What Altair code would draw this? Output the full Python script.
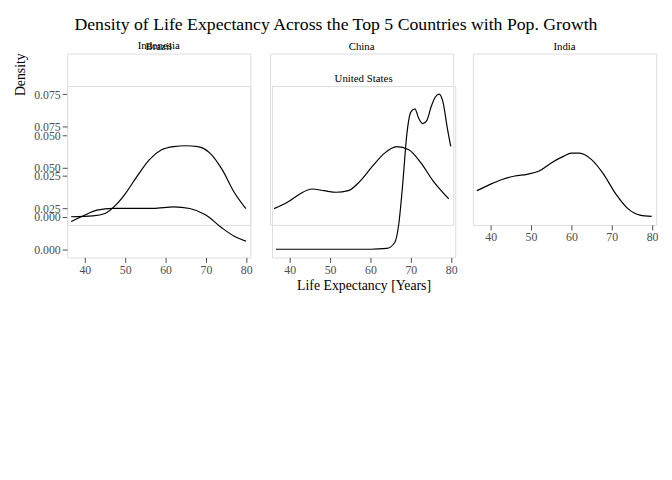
import altair as alt
import pandas as pd

brazil_x = [36.6, 42, 45, 48, 50, 53, 56, 59, 62, 65, 68, 71, 74, 77, 79.9]
brazil_y = [0.0, 0.0005, 0.002, 0.008, 0.014, 0.025, 0.035, 0.041, 0.043, 0.0435, 0.043, 0.039, 0.029, 0.015, 0.005]
china_x = [36.6, 40, 43, 46, 49, 52, 55, 58, 61, 64, 67, 70, 73, 76, 79.9]
china_y = [0.005, 0.009, 0.014, 0.017, 0.016, 0.015, 0.016, 0.022, 0.031, 0.039, 0.043, 0.041, 0.033, 0.022, 0.011]
india_x = [36.6, 40, 43, 46, 49, 52, 55, 58, 60, 62, 65, 68, 71, 74, 77, 79.9]
india_y = [0.016, 0.020, 0.023, 0.025, 0.026, 0.028, 0.033, 0.037, 0.039, 0.039, 0.035, 0.026, 0.014, 0.005, 0.001, 0.0002]
indonesia_x = [36.6, 40, 43, 47, 52, 57, 62, 66, 70, 74, 77, 79.9]
indonesia_y = [0.017, 0.021, 0.024, 0.025, 0.025, 0.025, 0.026, 0.025, 0.021, 0.013, 0.008, 0.005]
us_x = [36.6, 60, 64, 66, 67, 68, 69, 70, 71, 72, 73, 74, 75, 76, 77, 78, 79, 79.9]
us_y = [0.0, 0.0, 0.0005, 0.004, 0.015, 0.040, 0.070, 0.084, 0.086, 0.080, 0.077, 0.079, 0.087, 0.093, 0.095, 0.090, 0.075, 0.063]

series = {
    "Brazil": (brazil_x, brazil_y),
    "China": (china_x, china_y),
    "India": (india_x, india_y),
    "Indonesia": (indonesia_x, indonesia_y),
    "United States": (us_x, us_y),
}

FONT = "Liberation Serif"
W, H = 186, 174
xs = alt.Scale(domain=[35.6, 81.0], nice=False, zero=False)
ys = alt.Scale(domain=[-0.005, 0.100], nice=False)

def panel(name, show_x, show_y, xtitle=False, ytitle=False):
    xv, yv = series[name]
    df = pd.DataFrame({"x": xv, "y": yv})
    xaxis = alt.Axis(values=[40, 50, 60, 70, 80], grid=False, domain=False,
                     tickColor="#4d4d4d", labelColor="#4d4d4d", labelFontSize=12,
                     title="Life Expectancy [Years]" if xtitle else None,
                     titleFontSize=14, titleFontWeight="normal", titleColor="black",
                     titlePadding=4) if show_x else None
    yaxis = alt.Axis(values=[0, 0.025, 0.05, 0.075], format=".3f", grid=False, domain=False,
                     tickColor="#4d4d4d", labelColor="#4d4d4d", labelFontSize=12,
                     title="Density" if ytitle else None, titleFontSize=14,
                     titleFontWeight="normal", titleColor="black", titleY=-12,
                     titlePadding=6) if show_y else None
    return alt.Chart(df).mark_line(color="black", strokeWidth=1.2, interpolate="monotone").encode(
        x=alt.X("x:Q", scale=xs, axis=xaxis),
        y=alt.Y("y:Q", scale=ys, axis=yaxis),
    ).properties(width=W, height=H,
                 title=alt.TitleParams(name, fontSize=11, fontWeight="normal", font=FONT, offset=2))

row1 = alt.hconcat(panel("Brazil", False, True), panel("China", False, False),
                   panel("India", True, False), spacing=18)
row2 = alt.hconcat(panel("Indonesia", True, True, ytitle=True),
                   panel("United States", True, False, xtitle=True), spacing=18)

chart = alt.vconcat(row1, row2, spacing=33, bounds="flush").properties(
    title=alt.TitleParams("Density of Life Expectancy Across the Top 5 Countries with Pop. Growth",
                          fontSize=18, fontWeight="normal", font=FONT, anchor="middle", offset=6)
).configure_view(strokeWidth=0, stroke="transparent").configure_axis(
    labelFont=FONT, titleFont=FONT).configure(font=FONT)

chart.save("out.html", embed_options={"renderer": "svg", "actions": False})
